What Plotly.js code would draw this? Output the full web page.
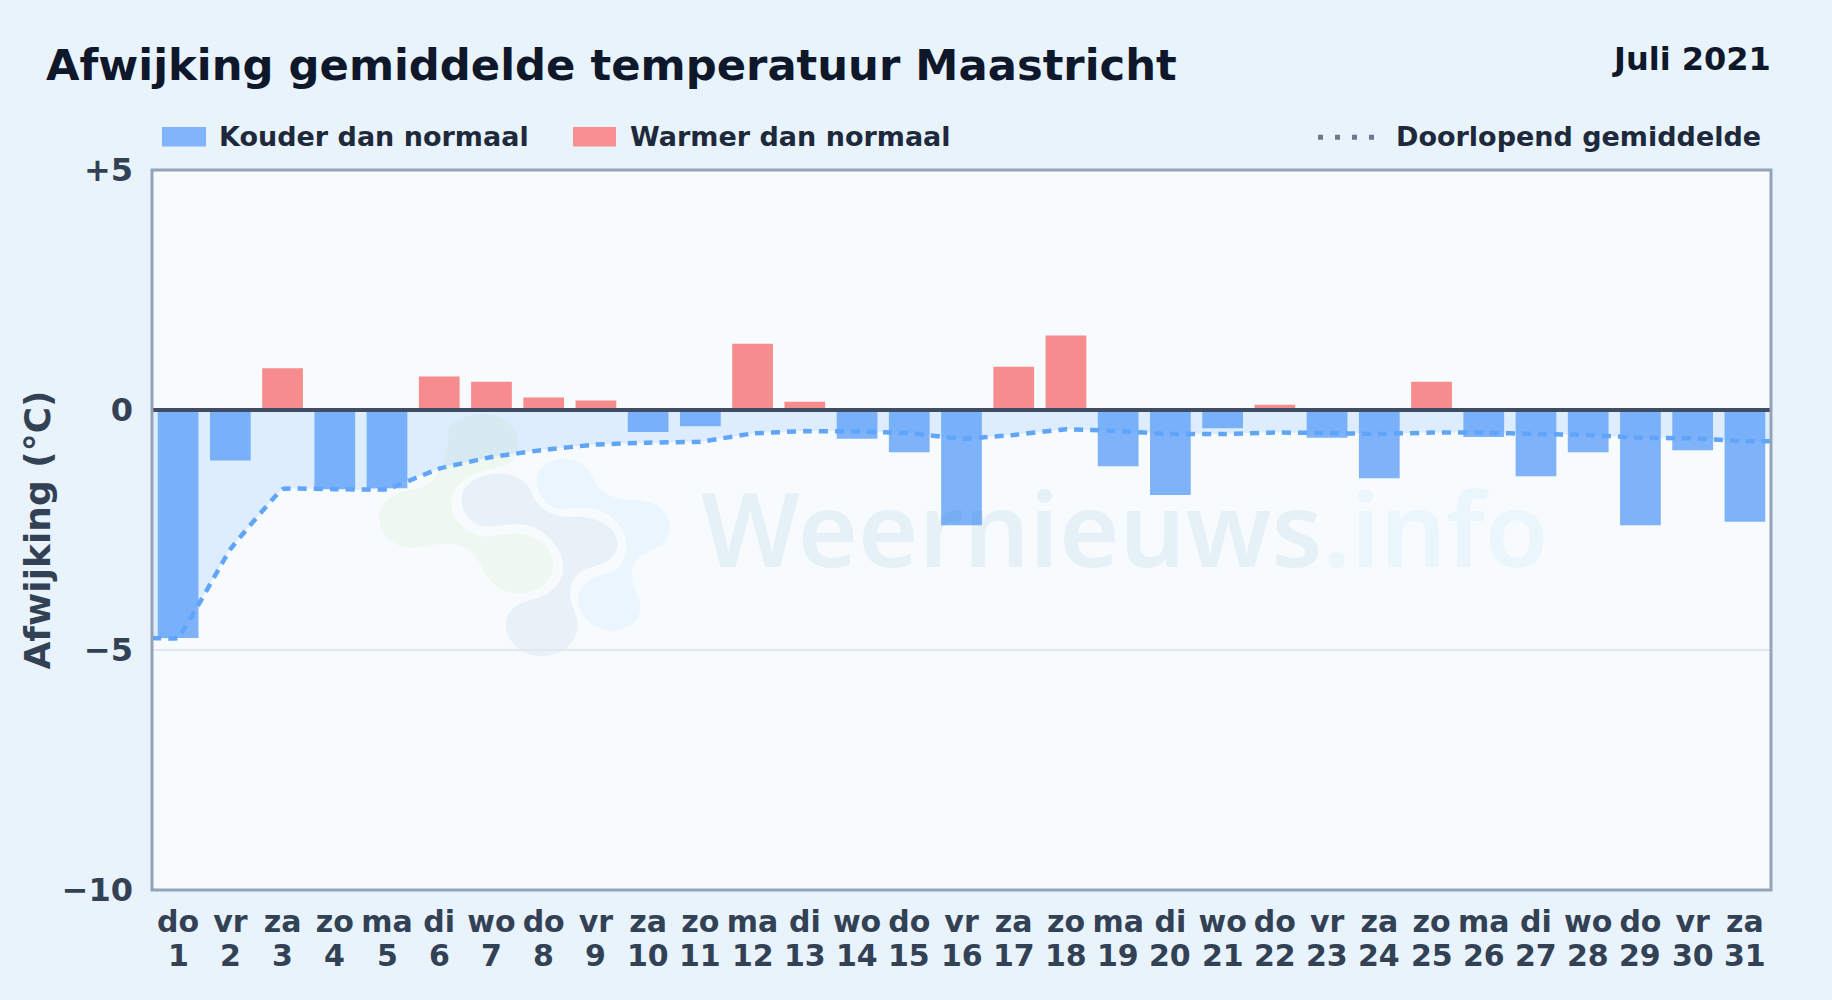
<!DOCTYPE html>
<html>
<head>
<meta charset="utf-8">
<script src="https://cdn.plot.ly/plotly-3.0.1.min.js"></script>
<style>html,body{margin:0;padding:0;background:#e8f3fc;overflow:hidden}#chart{width:1832px;height:1000px}</style>
</head>
<body>
<div id="chart"></div>
<script>
const dagnamen = ['do','vr','za','zo','ma','di','wo','do','vr','za','zo','ma','di','wo','do','vr','za','zo','ma','di','wo','do','vr','za','zo','ma','di','wo','do','vr','za'];
const dagnummers = [1,2,3,4,5,6,7,8,9,10,11,12,13,14,15,16,17,18,19,20,21,22,23,24,25,26,27,28,29,30,31];
const afwijking = [-4.75,-1.05,0.87,-1.65,-1.63,0.70,0.59,0.26,0.20,-0.46,-0.34,1.38,0.17,-0.60,-0.88,-2.40,0.90,1.55,-1.17,-1.77,-0.38,0.11,-0.58,-1.42,0.59,-0.56,-1.38,-0.88,-2.40,-0.84,-2.33];
const doorlopend = [-4.75,-2.90,-1.65,-1.65,-1.65,-1.22,-0.98,-0.83,-0.72,-0.68,-0.66,-0.49,-0.44,-0.45,-0.48,-0.60,-0.52,-0.40,-0.44,-0.50,-0.50,-0.47,-0.48,-0.50,-0.47,-0.47,-0.50,-0.52,-0.58,-0.59,-0.65];
const yTicks = [5,0,-5,-10];
const yTickLabels = ['+5','0','\u22125','\u221210'];

const W = 1832, H = 1000;
const box = {l:152, r:1771, t:169.5, b:890};
const font = '"DejaVu Sans", sans-serif';
const px = (x,y) => ((x-box.l)/(box.r-box.l)).toFixed(5)+' '+((box.b-y)/(box.b-box.t)).toFixed(5);
// logo outlines traced in a 3x crop whose corner is at (360,390)
function blob(list){
  return list.map(seg => seg[0] + seg.slice(1).map(p => px(360+p[0]/3, 390+p[1]/3)).join(' ')).join(' ') + ' Z';
}
const logoGroen = [['M',[265,130]],['C',[265,90],[320,70],[370,70]],['C',[430,70],[475,110],[475,160]],['C',[475,195],[460,215],[430,228]],['C',[380,240],[300,250],[275,320]],['C',[265,370],[300,420],[360,437]],['C',[400,445],[440,425],[490,432]],['C',[550,445],[585,490],[580,530]],['C',[575,580],[520,612],[470,610]],['C',[420,605],[385,575],[365,530]],['C',[345,490],[320,462],[260,460]],['C',[210,462],[190,475],[150,472]],['C',[95,468],[58,430],[58,380]],['C',[58,330],[110,305],[170,295]],['C',[220,285],[265,230],[265,130]]];
const logoGrijs = [['M',[305,325]],['C',[305,280],[360,250],[420,250]],['C',[470,250],[505,275],[518,315]],['C',[535,360],[585,382],[640,380]],['C',[700,375],[775,405],[772,465]],['C',[770,510],[720,525],[680,535]],['C',[640,550],[625,590],[632,630]],['C',[640,660],[655,680],[652,715]],['C',[645,765],[600,798],[545,798]],['C',[485,798],[438,755],[438,705]],['C',[438,660],[470,640],[510,630]],['C',[570,615],[612,580],[610,530]],['C',[608,470],[550,405],[480,402]],['C',[440,400],[410,410],[375,408]],['C',[335,405],[305,370],[305,325]]];
const logoBlauw = [['M',[530,270]],['C',[530,230],[570,205],[615,205]],['C',[660,205],[690,235],[705,275]],['C',[720,310],[770,330],[815,328]],['C',[880,325],[932,365],[930,412]],['C',[928,460],[880,480],[845,495]],['C',[815,515],[810,550],[822,590]],['C',[835,620],[845,640],[840,665]],['C',[830,700],[795,722],[755,722]],['C',[700,720],[655,680],[655,625]],['C',[657,585],[695,560],[735,553]],['C',[775,545],[800,510],[800,465]],['C',[798,410],[745,355],[680,352]],['C',[655,350],[625,358],[600,355]],['C',[560,350],[530,310],[530,270]]];

const koud = afwijking.map(v => v < 0 ? v : null);
const warm = afwijking.map(v => v >= 0 ? v : null);
const lijnX = [0.5, ...dagnummers, 31.5];
const lijnY = [doorlopend[0], ...doorlopend, doorlopend[doorlopend.length-1]];

const traces = [
  {type:'bar', name:'Kouder dan normaal', x:dagnummers, y:koud, width:0.78, marker:{color:'rgba(62,140,248,0.65)', line:{width:0}}},
  {type:'bar', name:'Warmer dan normaal', x:dagnummers, y:warm, width:0.78, marker:{color:'rgba(246,80,82,0.65)', line:{width:0}}},
  {type:'scatter', mode:'lines', name:'Doorlopend gemiddelde', x:lijnX, y:lijnY,
   line:{color:'#60a5fa', width:4.5, dash:'9px,7px', shape:'spline', smoothing:0.2},
   fill:'tozeroy', fillcolor:'rgba(96,165,250,0.16)'}
];

const pRef = {xref:'paper', yref:'paper'};
const pxX = x => (x-box.l)/(box.r-box.l);
const pxY = y => (box.b-y)/(box.b-box.t);
function tekst(text,x,y,size,color,anchor){
  return {...pRef, text, x:pxX(x), y:pxY(y), xanchor:anchor, yanchor:'middle', showarrow:false,
          font:{family:font, size, color, weight:700}};
}
const dagLabels = dagnummers.map(d => ({
  xref:'x', yref:'paper', x:d, y:pxY(956), xanchor:'center', yanchor:'middle', showarrow:false, text:String(d),
  font:{family:font, size:30, color:'#334155', weight:700}
}));
const layout = {
  width:W, height:H,
  paper_bgcolor:'#e8f3fc', plot_bgcolor:'#f7fbfe',
  margin:{l:box.l, r:W-box.r, t:box.t, b:H-box.b, pad:0},
  showlegend:false, barmode:'overlay', hovermode:false,
  title:{text:'Afwijking gemiddelde temperatuur Maastricht', x:46/W, xanchor:'left', y:1-65.2/H, yanchor:'middle',
         font:{family:font, size:43.3, color:'#0f172a', weight:700}},
  xaxis:{range:[0.5,31.5], tickmode:'array', tickvals:dagnummers, ticktext:dagnamen,
         tickfont:{family:font, size:30, color:'#334155', weight:700},
         showgrid:false, zeroline:false, showline:false, ticks:'', tickangle:0, automargin:false, ticklabelstandoff:11},
  yaxis:{range:[-10,5], tickmode:'array', tickvals:yTicks, ticktext:yTickLabels,
         tickfont:{family:font, size:32, color:'#334155', weight:700},
         showgrid:true, gridcolor:'#e2e8f0', gridwidth:2, zeroline:false, showline:false, ticks:'',
         ticklabelstandoff:18, automargin:false,
         title:{text:'Afwijking (\u00b0C)', standoff:0, font:{family:font, size:36, color:'#334155', weight:700}}},
  shapes:[
    {...pRef, type:'path', layer:'below', path:blob(logoGroen), fillcolor:'rgba(180,215,130,0.10)', line:{width:0}},
    {...pRef, type:'path', layer:'below', path:blob(logoGrijs), fillcolor:'rgba(36,100,167,0.07)', line:{width:0}},
    {...pRef, type:'path', layer:'below', path:blob(logoBlauw), fillcolor:'rgba(85,176,240,0.08)', line:{width:0}},
    {xref:'paper', yref:'y', type:'line', x0:0, x1:1, y0:0, y1:0, layer:'above', line:{color:'#3f4c61', width:4}},
    {...pRef, type:'rect', x0:0, x1:1, y0:0, y1:1, layer:'above', line:{color:'#94a3b8', width:3}},
    {...pRef, type:'rect', x0:pxX(162), x1:pxX(206), y0:pxY(146), y1:pxY(126.5), fillcolor:'#80b5fb', line:{width:0}},
    {...pRef, type:'rect', x0:pxX(573), x1:pxX(616), y0:pxY(146), y1:pxY(126.5), fillcolor:'#f98f90', line:{width:0}},
    {...pRef, type:'line', x0:pxX(1318), x1:pxX(1374), y0:pxY(136.7), y1:pxY(136.7), line:{color:'#6b7a90', width:5, dash:'5px,12px'}}
  ],
  annotations:[
    {...pRef, x:pxX(1125), y:pxY(526), xanchor:'center', yanchor:'middle', showarrow:false,
     text:'<span style="color:rgba(36,113,167,0.08)">Weernieuws</span><span style="color:rgba(85,176,230,0.08)">.info</span>',
     font:{family:'"Noto Sans", sans-serif', size:103.5, weight:600}},
    tekst('Juli 2021',1772.5,58,32,'#0f172a','right'),
    tekst('Kouder dan normaal',217,136,27,'#1e293b','left'),
    tekst('Warmer dan normaal',628,136,27,'#1e293b','left'),
    tekst('Doorlopend gemiddelde',1762.5,136,27,'#1e293b','right'),
    ...dagLabels
  ]
};
Plotly.newPlot('chart', traces, layout, {staticPlot:true, displayModeBar:false});
</script>
</body>
</html>
